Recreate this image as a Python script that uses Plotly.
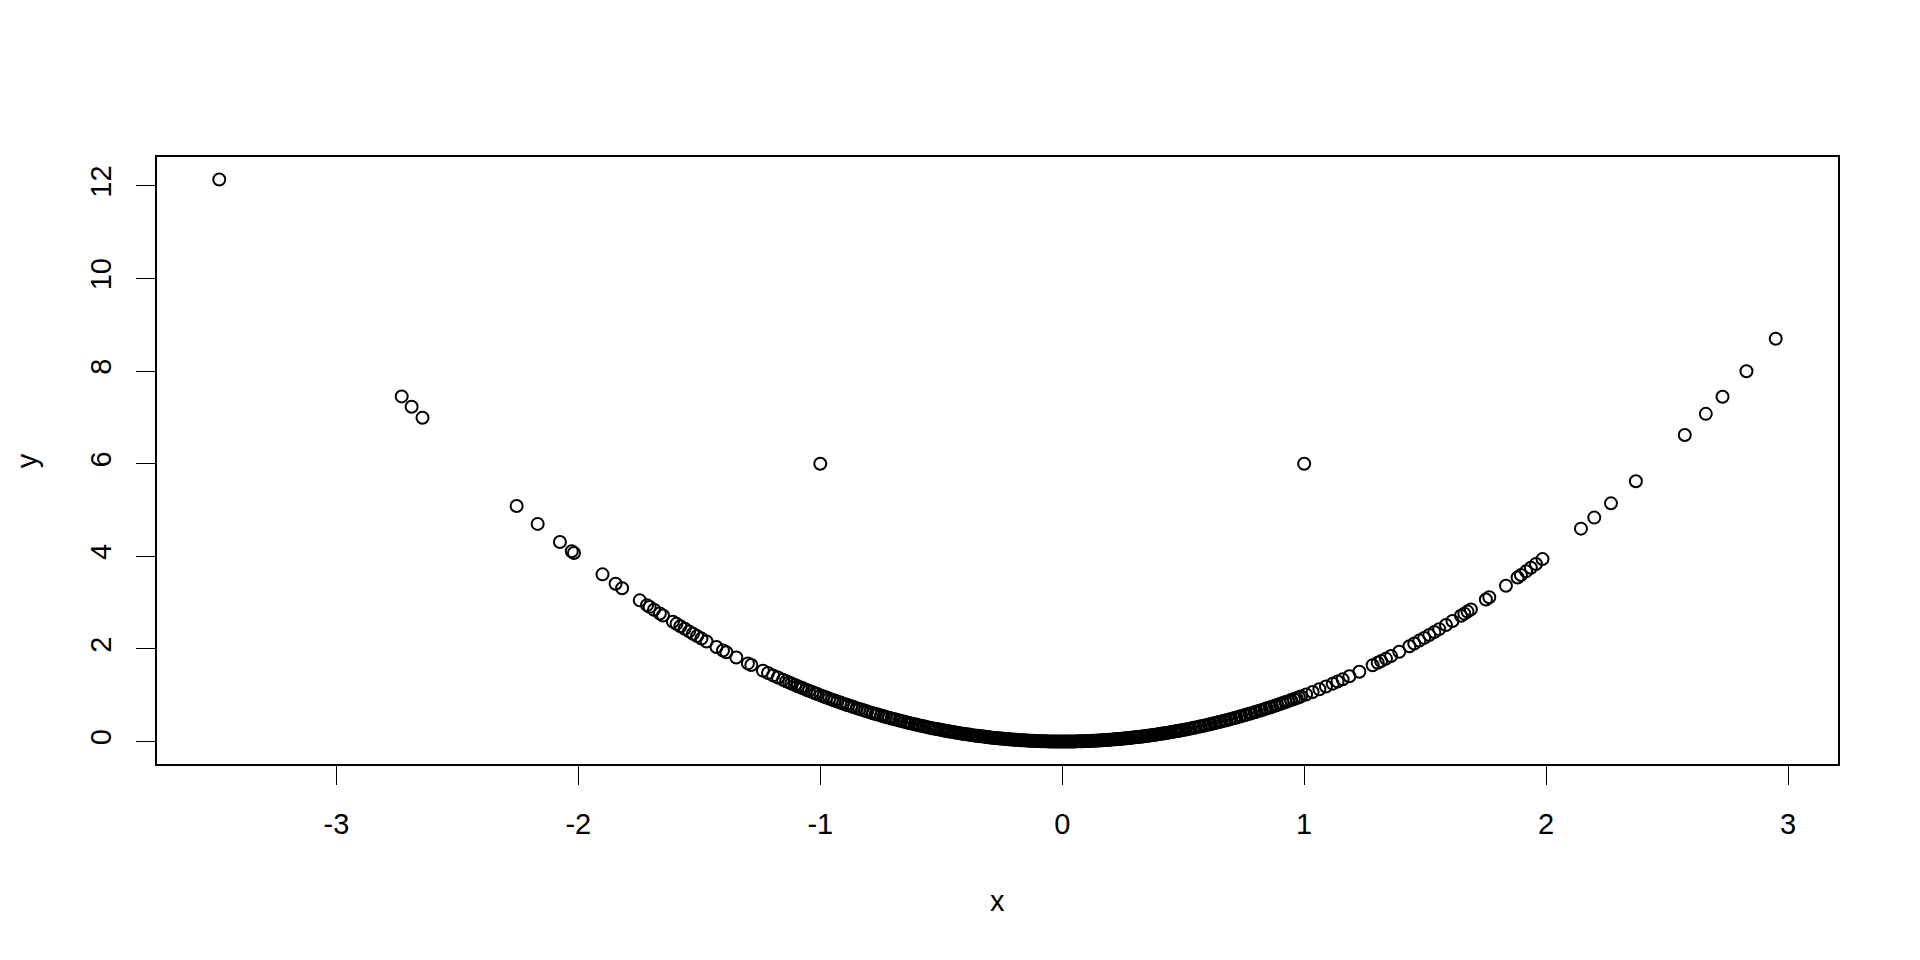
import plotly.graph_objects as go

# ---- data ----
x_left_tail = [-3.484, -2.730, -2.689, -2.644, -2.255, -2.168, -2.076, -2.027, -2.018, -1.900,
               -1.846, -1.819, -1.746, -1.716, -1.705, -1.687, -1.663, -1.650, -1.609, -1.594,
               -1.578, -1.560, -1.542, -1.526, -1.509, -1.491, -1.470, -1.429, -1.402, -1.388,
               -1.347, -1.299, -1.285, -1.237, -1.216, -1.195, -1.175, -1.154]
y_left_tail = [12.138, 7.453, 7.231, 6.991, 5.085, 4.700, 4.310, 4.109, 4.072, 3.610,
               3.408, 3.309, 3.049, 2.945, 2.907, 2.846, 2.766, 2.723, 2.589, 2.541,
               2.490, 2.434, 2.378, 2.329, 2.277, 2.223, 2.161, 2.042, 1.966, 1.927,
               1.814, 1.687, 1.651, 1.530, 1.479, 1.428, 1.381, 1.332]

x_left_band = [-1.141, -1.128, -1.119, -1.104, -1.093, -1.081, -1.072, -1.058, -1.047, -1.033,
               -1.021, -1.012, -0.998, -0.986, -0.975, -0.963, -0.951, -0.942, -0.929, -0.917,
               -0.906, -0.894, -0.885, -0.871, -0.862, -0.849, -0.838, -0.827, -0.815, -0.806,
               -0.793, -0.782, -0.771, -0.762, -0.749, -0.738, -0.729, -0.716, -0.705, -0.696,
               -0.684, -0.673, -0.664, -0.652, -0.641, -0.632, -0.621, -0.609, -0.601, -0.589,
               -0.578, -0.569, -0.557, -0.548, -0.537, -0.527, -0.518, -0.507]
y_left_band = [1.302, 1.272, 1.252, 1.219, 1.195, 1.169, 1.149, 1.119, 1.096, 1.067,
               1.042, 1.024, 0.996, 0.972, 0.951, 0.927, 0.904, 0.887, 0.863, 0.841,
               0.821, 0.799, 0.783, 0.759, 0.743, 0.721, 0.702, 0.684, 0.664, 0.650,
               0.629, 0.612, 0.594, 0.581, 0.561, 0.545, 0.531, 0.513, 0.497, 0.484,
               0.468, 0.453, 0.441, 0.425, 0.411, 0.399, 0.386, 0.371, 0.361, 0.347,
               0.334, 0.324, 0.310, 0.300, 0.288, 0.278, 0.268, 0.257]

x_center = [-0.498, -0.489, -0.481, -0.473, -0.466, -0.457, -0.449, -0.442, -0.433, -0.426,
            -0.418, -0.410, -0.403, -0.395, -0.387, -0.380, -0.372, -0.364, -0.357, -0.349,
            -0.341, -0.334, -0.326, -0.318, -0.311, -0.303, -0.296, -0.288, -0.280, -0.273,
            -0.265, -0.257, -0.250, -0.242, -0.234, -0.227, -0.219, -0.211, -0.204, -0.196,
            -0.189, -0.181, -0.173, -0.166, -0.158, -0.150, -0.143, -0.135, -0.128, -0.120,
            -0.112, -0.105, -0.097, -0.089, -0.082, -0.074, -0.067, -0.059, -0.051, -0.044,
            -0.036, -0.028, -0.021, -0.013, -0.006, 0.002, 0.010, 0.017, 0.025, 0.033,
            0.040, 0.048, 0.055, 0.063, 0.071, 0.078, 0.086, 0.094, 0.101, 0.109,
            0.116, 0.124, 0.132, 0.139, 0.147, 0.155, 0.162, 0.170, 0.178, 0.185,
            0.193, 0.200, 0.208, 0.216, 0.223, 0.231, 0.239, 0.246, 0.254, 0.262,
            0.269, 0.277, 0.285, 0.292, 0.300, 0.308, 0.315, 0.323, 0.331, 0.338,
            0.346, 0.354, 0.361, 0.369, 0.377, 0.384, 0.392, 0.400, 0.407, 0.415,
            0.423, 0.430, 0.438, 0.446, 0.453, 0.461, 0.469, 0.476, 0.484, 0.492, 0.499]
y_center = [0.248, 0.239, 0.231, 0.224, 0.217, 0.209, 0.202, 0.195, 0.187, 0.181,
            0.175, 0.168, 0.162, 0.156, 0.150, 0.144, 0.138, 0.132, 0.127, 0.122,
            0.116, 0.112, 0.106, 0.101, 0.097, 0.092, 0.088, 0.083, 0.078, 0.075,
            0.070, 0.066, 0.063, 0.059, 0.055, 0.052, 0.048, 0.045, 0.042, 0.038,
            0.036, 0.033, 0.030, 0.028, 0.025, 0.023, 0.020, 0.018, 0.016, 0.014,
            0.013, 0.011, 0.009, 0.008, 0.007, 0.005, 0.004, 0.003, 0.003, 0.002,
            0.001, 0.001, 0.000, 0.000, 0.000, 0.000, 0.000, 0.000, 0.001, 0.001,
            0.002, 0.002, 0.003, 0.004, 0.005, 0.006, 0.007, 0.009, 0.010, 0.012,
            0.013, 0.015, 0.017, 0.019, 0.022, 0.024, 0.026, 0.029, 0.032, 0.034,
            0.037, 0.040, 0.043, 0.047, 0.050, 0.053, 0.057, 0.061, 0.065, 0.069,
            0.072, 0.077, 0.081, 0.085, 0.090, 0.095, 0.099, 0.104, 0.110, 0.114,
            0.120, 0.125, 0.130, 0.136, 0.142, 0.147, 0.154, 0.160, 0.166, 0.172,
            0.179, 0.185, 0.192, 0.199, 0.205, 0.213, 0.220, 0.227, 0.234, 0.242, 0.249]

x_right_band = [0.511, 0.522, 0.531, 0.543, 0.552, 0.564, 0.573, 0.585, 0.594, 0.606,
                0.615, 0.627, 0.636, 0.648, 0.657, 0.669, 0.678, 0.690, 0.699, 0.711,
                0.720, 0.732, 0.741, 0.753, 0.762, 0.774, 0.783, 0.795, 0.804, 0.816,
                0.825, 0.837, 0.846, 0.858, 0.867, 0.879, 0.888, 0.900, 0.911, 0.923,
                0.934, 0.946, 0.957, 0.968, 0.978]
y_right_band = [0.261, 0.272, 0.282, 0.295, 0.305, 0.318, 0.328, 0.342, 0.353, 0.367,
                0.378, 0.393, 0.404, 0.420, 0.432, 0.448, 0.460, 0.476, 0.489, 0.506,
                0.518, 0.536, 0.549, 0.567, 0.581, 0.599, 0.613, 0.632, 0.646, 0.666,
                0.681, 0.701, 0.716, 0.736, 0.752, 0.773, 0.789, 0.810, 0.830, 0.852,
                0.872, 0.895, 0.916, 0.937, 0.956]

x_right_tail = [0.987, 1.008, 1.035, 1.063, 1.090, 1.118, 1.138, 1.159, 1.187, 1.228,
                1.283, 1.304, 1.318, 1.338, 1.359, 1.393, 1.435, 1.455, 1.476, 1.496,
                1.517, 1.538, 1.558, 1.586, 1.613, 1.648, 1.662, 1.675, 1.689, 1.751,
                1.765, 1.834, 1.882, 1.896, 1.917, 1.937, 1.958, 1.985, 2.144, 2.199,
                2.268, 2.371, 2.573, 2.660, 2.729, 2.828, 2.949]
y_right_tail = [0.974, 1.016, 1.071, 1.130, 1.188, 1.250, 1.295, 1.343, 1.409, 1.508,
                1.646, 1.700, 1.737, 1.790, 1.847, 1.940, 2.059, 2.117, 2.179, 2.238,
                2.301, 2.365, 2.427, 2.515, 2.602, 2.716, 2.762, 2.806, 2.853, 3.066,
                3.115, 3.364, 3.542, 3.595, 3.675, 3.752, 3.834, 3.940, 4.597, 4.836,
                5.144, 5.622, 6.620, 7.076, 7.447, 7.998, 8.697]

x_outliers = [-1.0, 1.0]
y_outliers = [6.0, 6.0]

x_ticks = [-3, -2, -1, 0, 1, 2, 3]
y_ticks = [0, 2, 4, 6, 8, 10, 12]

x_all = x_left_tail + x_left_band + x_center + x_right_band + x_right_tail + x_outliers
y_all = y_left_tail + y_left_band + y_center + y_right_band + y_right_tail + y_outliers

# R-style axis limits: data range extended by 4% each side
def r_range(vals):
    lo, hi = min(vals), max(vals)
    pad = 0.04 * (hi - lo)
    return [lo - pad, hi + pad]

FONT = "Liberation Sans, Arial, sans-serif"

fig = go.Figure()
fig.add_trace(go.Scatter(
    x=x_all, y=y_all, mode="markers",
    marker=dict(symbol="circle-open", size=12, color="black",
                line=dict(color="black", width=2)),
    showlegend=False, hoverinfo="x+y",
))

axis_common = dict(
    showgrid=False, zeroline=False,
    showline=True, linecolor="black", linewidth=2, mirror=True,
    ticks="outside", ticklen=19, tickwidth=1.2, tickcolor="black",
    tickfont=dict(family=FONT, size=29, color="black"),
)

fig.update_xaxes(range=r_range(x_all), tickmode="array", tickvals=x_ticks,
                 ticktext=[str(v) for v in x_ticks], ticklabelstandoff=14,
                 **axis_common)
fig.update_yaxes(range=r_range(y_all), tickmode="array", tickvals=y_ticks,
                 ticktext=[str(v) for v in y_ticks], tickangle=-90,
                 ticklabelstandoff=13, **axis_common)

fig.add_annotation(text="x", xref="paper", yref="paper", x=0.5, y=-0.2257,
                   xanchor="center", yanchor="middle", showarrow=False,
                   font=dict(family=FONT, size=29, color="black"))
fig.add_annotation(text="y", xref="paper", yref="paper", x=-0.0775, y=0.5,
                   xanchor="center", yanchor="middle", showarrow=False, textangle=-90,
                   font=dict(family=FONT, size=29, color="black"))

# page body has an 8px margin, so the figure is 16px smaller and margins shifted
fig.update_layout(
    width=1904, height=944, autosize=False,
    margin=dict(l=149, r=74, t=149, b=188, pad=0),
    paper_bgcolor="white", plot_bgcolor="white",
)

fig.write_html("out.html")
